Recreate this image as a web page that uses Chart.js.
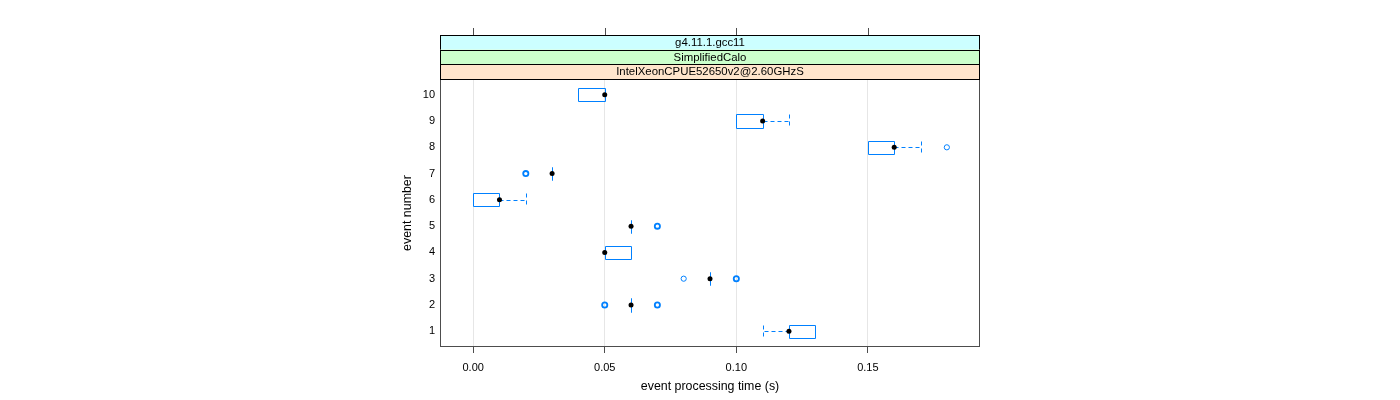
<!DOCTYPE html>
<html>
<head>
<meta charset="utf-8">
<script src="https://cdn.jsdelivr.net/npm/chart.js@4.4.1/dist/chart.umd.min.js"></script>
<style>
  html, body { margin: 0; padding: 0; background: #ffffff; }
  #wrap { width: 1400px; height: 400px; }
</style>
</head>
<body>
<div id="wrap"><canvas id="chart" width="1400" height="400"></canvas></div>
<script>
// Box-and-whisker summary per event
const events    = [1, 2, 3, 4, 5, 6, 7, 8, 9, 10];
const whiskerLo = [0.11, 0.06, 0.09, 0.05, 0.06, 0.00, 0.03, 0.15, 0.10, 0.04];
const q1        = [0.12, 0.06, 0.09, 0.05, 0.06, 0.00, 0.03, 0.15, 0.10, 0.04];
const medians   = [0.12, 0.06, 0.09, 0.05, 0.06, 0.01, 0.03, 0.16, 0.11, 0.05];
const q3        = [0.13, 0.06, 0.09, 0.06, 0.06, 0.01, 0.03, 0.16, 0.11, 0.05];
const whiskerHi = [0.13, 0.06, 0.09, 0.06, 0.06, 0.02, 0.03, 0.17, 0.12, 0.05];

// Outliers: event number, value, how many overlap at that spot
const outlierEvent = [2, 2, 3, 3, 5, 7, 8];
const outlierValue = [0.05, 0.07, 0.08, 0.10, 0.07, 0.02, 0.18];
const outlierCount = [2, 2, 1, 2, 2, 2, 1];

const xTicks = [0, 0.05, 0.10, 0.15];
const stripLabels = ['g4.11.1.gcc11', 'SimplifiedCalo', 'IntelXeonCPUE52650v2@2.60GHzS'];
const stripColors = ['#ccffff', '#ccffcc', '#ffe5cc'];

const BLUE = '#0080ff';
const FONT = 'Liberation Sans, Arial, Helvetica, sans-serif';

/**
 * Draws boxes, whiskers, panel border, top ticks and the strips
 */
const latticePlugin = {
  id: 'lattice',
  beforeDatasetsDraw(chart) {
    const ctx = chart.ctx;
    const xs = chart.scales.x;
    const ys = chart.scales.y;
    const half = 0.25; // box half height in event units

    ctx.save();
    ctx.lineWidth = 1;
    events.forEach((ev, i) => {
      const yTop = Math.round(ys.getPixelForValue(ev + half)) + 0.5;
      const yBot = Math.round(ys.getPixelForValue(ev - half)) + 0.5;
      const yMid = Math.round(ys.getPixelForValue(ev)) + 0.5;
      const xq1 = Math.round(xs.getPixelForValue(q1[i])) + 0.5;
      const xq3 = Math.round(xs.getPixelForValue(q3[i])) + 0.5;

      // box (zero width gives a vertical line)
      ctx.strokeStyle = BLUE;
      ctx.setLineDash([]);
      ctx.beginPath();
      ctx.rect(xq1, yTop, xq3 - xq1, yBot - yTop);
      ctx.stroke();

      // whiskers
      ctx.setLineDash([4, 3]);
      [[whiskerLo[i], q1[i]], [whiskerHi[i], q3[i]]].forEach(([end, edge]) => {
        if (end === edge) return;
        const xe = Math.round(xs.getPixelForValue(end)) + 0.5;
        const xb = Math.round(xs.getPixelForValue(edge)) + 0.5;
        ctx.strokeStyle = BLUE;
        ctx.beginPath();
        ctx.moveTo(xb, yMid);
        ctx.lineTo(xe, yMid);
        ctx.moveTo(xe, yTop);
        ctx.lineTo(xe, yBot);
        ctx.stroke();
      });
    });
    ctx.restore();
  },
  afterDraw(chart) {
    const ctx = chart.ctx;
    const { left, right, top, bottom } = chart.chartArea;
    const xs = chart.scales.x;
    const stripH = 14.67;
    const stripTop = top - stripH * stripLabels.length;

    ctx.save();
    // panel border
    ctx.strokeStyle = '#4d4d4d';
    ctx.lineWidth = 1;
    ctx.strokeRect(left + 0.5, top + 0.5, right - left - 1, bottom - top - 1);

    // strips
    stripLabels.forEach((label, i) => {
      const y0 = stripTop + i * stripH;
      ctx.fillStyle = stripColors[i];
      ctx.fillRect(left, y0, right - left, stripH);
      ctx.strokeStyle = '#000000';
      ctx.strokeRect(left + 0.5, Math.round(y0) + 0.5, right - left - 1, Math.round(stripH));
      ctx.fillStyle = '#000000';
      ctx.font = '11.4px ' + FONT;
      ctx.textAlign = 'center';
      ctx.textBaseline = 'middle';
      ctx.fillText(label, (left + right) / 2, y0 + stripH / 2 + 0.5);
    });

    // ticks on the top side
    ctx.strokeStyle = '#4d4d4d';
    xTicks.forEach(v => {
      const x = Math.round(xs.getPixelForValue(v)) + 0.5;
      ctx.beginPath();
      ctx.moveTo(x, stripTop - 7);
      ctx.lineTo(x, stripTop);
      ctx.stroke();
    });
    ctx.restore();
  }
};

const medianPoints = events.map((ev, i) => ({ x: medians[i], y: ev }));
const outlierPoints = outlierEvent.map((ev, i) => ({ x: outlierValue[i], y: ev }));

new Chart(document.getElementById('chart'), {
  type: 'scatter',
  data: {
    datasets: [
      {
        label: 'outliers',
        data: outlierPoints,
        pointStyle: 'circle',
        pointRadius: 2.6,
        pointBackgroundColor: 'rgba(0,0,0,0)',
        pointBorderColor: BLUE,
        pointBorderWidth: outlierCount.map(c => (c > 1 ? 1.8 : 1))
      },
      {
        label: 'median',
        data: medianPoints,
        pointStyle: 'circle',
        pointRadius: 2.5,
        pointBackgroundColor: '#000000',
        pointBorderColor: '#000000',
        pointBorderWidth: 0
      }
    ]
  },
  options: {
    responsive: false,
    animation: false,
    layout: { padding: { left: 400, right: 420, top: 79, bottom: 0 } },
    plugins: {
      legend: { display: false },
      tooltip: { enabled: false }
    },
    scales: {
      x: {
        type: 'linear',
        min: -0.0126,
        max: 0.1926,
        afterBuildTicks: scale => { scale.ticks = xTicks.map(v => ({ value: v })); },
        afterFit: scale => { scale.height = 53; },
        border: { display: false },
        grid: {
          color: '#e6e6e6',
          drawTicks: true,
          tickLength: 6,
          tickColor: '#4d4d4d'
        },
        ticks: {
          color: '#000000',
          padding: 8,
          maxRotation: 0,
          font: { family: FONT, size: 11 },
          callback: v => v.toFixed(2)
        },
        title: {
          display: true,
          text: 'event processing time (s)',
          color: '#000000',
          padding: { top: 0, bottom: 6 },
          font: { family: FONT, size: 12.4 }
        }
      },
      y: {
        type: 'linear',
        min: 0.4,
        max: 10.6,
        afterBuildTicks: scale => { scale.ticks = events.map(v => ({ value: v })); },
        afterFit: scale => { scale.width = 40; },
        border: { display: false },
        grid: { display: false, drawTicks: false },
        ticks: {
          color: '#000000',
          padding: 5,
          font: { family: FONT, size: 11 }
        },
        title: {
          display: true,
          text: 'event number',
          color: '#000000',
          padding: { top: 0, bottom: 0 },
          font: { family: FONT, size: 12.4 }
        }
      }
    }
  },
  plugins: [latticePlugin]
});
</script>
</body>
</html>
